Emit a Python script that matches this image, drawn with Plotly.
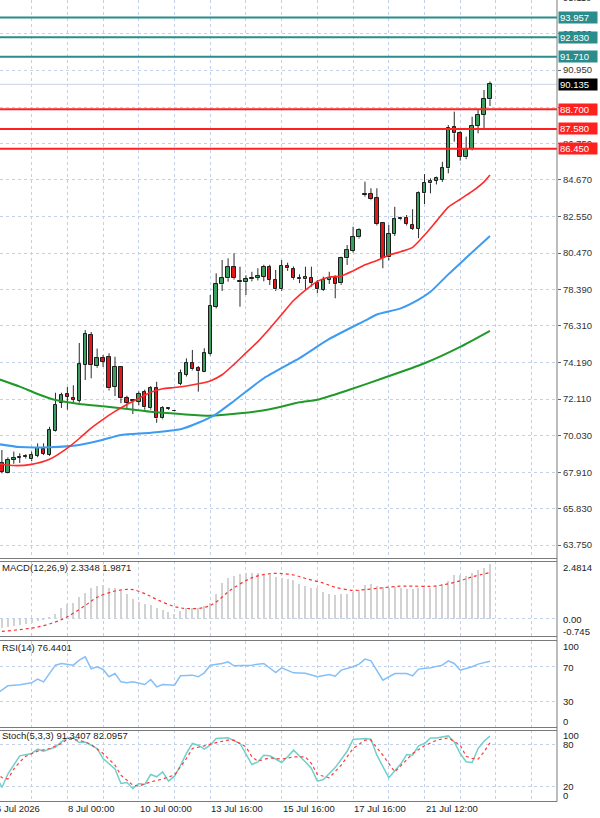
import plotly.graph_objects as go

# ---------------- data ----------------
bar_idx = list(range(83))
opens = [68.45, 67.89, 68.62, 68.75, 68.80, 68.66, 68.85, 69.23, 68.90, 70.30,
         71.90, 72.38, 72.17, 72.00, 74.06, 75.78, 73.99, 74.44, 74.53, 72.82,
         73.96, 72.15, 72.00, 71.96, 72.53, 71.58, 72.72, 71.00, 71.60, 71.40,
         73.00, 73.49, 74.16, 73.87, 73.68, 74.67, 77.40, 78.68, 79.03, 79.65,
         78.89, 78.80, 78.97, 79.06, 79.12, 79.69, 78.93, 78.39, 79.74, 79.54,
         79.03, 78.97, 79.06, 78.77, 78.35, 78.93, 79.03, 78.74, 80.17, 80.60,
         81.37, 83.79, 83.84, 83.60, 82.18, 80.22, 81.56, 82.40, 82.50, 82.10,
         81.85, 83.89, 84.46, 84.61, 84.65, 85.32, 87.67, 87.33, 85.95, 86.43,
         87.75, 88.38, 89.28]
highs = [69.19, 68.77, 69.10, 69.00, 68.95, 69.10, 69.57, 69.57, 70.52, 72.47,
         72.47, 72.80, 72.90, 75.32, 76.06, 75.95, 75.00, 74.63, 74.73, 74.53,
         74.00, 72.30, 72.10, 72.55, 72.65, 72.85, 73.10, 71.70, 71.65, 71.45,
         73.80, 74.44, 74.92, 74.00, 75.02, 78.07, 79.31, 80.07, 80.17, 80.46,
         79.69, 79.20, 79.40, 79.60, 79.80, 79.80, 79.50, 80.07, 79.92, 79.70,
         79.25, 79.69, 79.69, 78.93, 79.12, 79.40, 79.20, 80.26, 80.93, 81.98,
         81.89, 84.56, 84.18, 84.18, 82.25, 82.08, 83.12, 82.55, 82.65, 82.98,
         84.00, 84.99, 84.75, 84.85, 85.70, 87.80, 88.57, 87.45, 87.14, 88.28,
         88.66, 89.81, 90.30]
lows = [67.85, 67.85, 68.40, 68.45, 68.70, 68.55, 68.78, 68.90, 68.85, 70.25,
        71.60, 71.50, 71.90, 71.90, 73.20, 73.30, 73.90, 73.95, 72.60, 72.28,
        71.87, 71.60, 71.25, 71.75, 71.50, 71.50, 70.75, 70.95, 71.48, 71.38,
        72.90, 73.40, 73.75, 72.53, 73.65, 74.60, 77.30, 78.30, 78.83, 78.95,
        77.40, 78.07, 78.85, 78.90, 78.85, 78.64, 78.30, 78.30, 79.45, 78.95,
        78.75, 78.35, 78.55, 78.17, 78.30, 78.70, 77.88, 78.65, 79.79, 80.50,
        81.30, 83.70, 83.50, 82.05, 79.60, 80.05, 81.45, 82.35, 82.05, 81.80,
        81.32, 83.28, 83.89, 84.40, 84.55, 85.04, 86.85, 85.76, 85.85, 86.35,
        87.33, 87.52, 88.89]
closes = [67.93, 68.62, 68.75, 68.80, 68.78, 68.90, 69.32, 68.96, 70.34, 71.77,
          72.34, 72.25, 72.05, 74.10, 75.83, 74.06, 74.44, 74.25, 72.72, 73.96,
          72.15, 71.87, 72.05, 72.40, 71.64, 72.72, 71.00, 71.58, 71.53, 71.43,
          73.60, 74.16, 73.81, 73.70, 74.73, 77.44, 78.68, 79.03, 79.65, 79.03,
          78.80, 78.97, 79.06, 79.14, 79.69, 78.93, 78.39, 79.74, 79.60, 79.03,
          78.97, 79.12, 78.74, 78.39, 78.93, 79.06, 78.70, 80.17, 80.65, 81.41,
          81.79, 83.82, 83.55, 82.13, 80.17, 81.56, 82.40, 82.47, 82.13, 81.85,
          83.89, 84.50, 84.60, 84.75, 85.32, 87.61, 87.33, 85.96, 86.43, 87.75,
          88.38, 89.28, 90.135]

ma_fast_bars = [-1, 2, 5, 8, 11, 13, 15, 17, 19, 21, 23, 25, 27, 29, 31, 33, 35, 37, 39, 41,
                43, 45, 47, 49, 51, 53, 55, 57, 59, 61, 63, 65, 67, 69, 71, 73, 75, 77, 79, 81, 82]
ma_fast_vals = [68.42, 68.30, 68.37, 68.66, 69.30, 69.85, 70.45, 70.95, 71.40, 71.80,
                72.15, 72.50, 72.70, 72.77, 72.86, 72.98, 73.15, 73.50, 74.10, 74.75,
                75.40, 76.15, 76.95, 77.75, 78.35, 78.85, 79.10, 79.15, 79.45, 79.80,
                80.05, 80.35, 80.55, 80.80, 81.50, 82.30, 83.10, 83.55, 84.00, 84.55, 84.94]

ma_mid_bars = [-1, 3, 8, 13, 17, 20, 25, 30, 33, 36, 39, 44, 50, 55, 61, 63, 67, 70, 72, 75, 78, 82]
ma_mid_vals = [69.55, 69.36, 69.35, 69.48, 69.78, 70.05, 70.18, 70.38, 70.75, 71.25, 72.00,
               73.30, 74.45, 75.55, 76.60, 76.95, 77.30, 77.80, 78.25, 79.25, 80.20, 81.45]

ma_slow_bars = [-1, 3, 6, 9, 13, 17, 20, 25, 30, 35, 40, 45, 50, 53, 58, 64, 71, 77, 82]
ma_slow_vals = [73.30, 72.82, 72.40, 72.05, 71.83, 71.70, 71.58, 71.38, 71.25, 71.15, 71.29,
                71.52, 71.92, 72.07, 72.60, 73.30, 74.16, 75.10, 76.02]

macd_hist = [-0.39, -0.36, -0.32, -0.27, -0.24, -0.17, -0.10, -0.03, 0.06, 0.20,
             0.47, 0.62, 0.69, 0.95, 1.12, 1.30, 1.40, 1.45, 1.33, 1.30,
             1.19, 1.05, 0.83, 0.73, 0.62, 0.59, 0.47, 0.36, 0.30, 0.20,
             0.33, 0.44, 0.47, 0.47, 0.54, 0.69, 1.05, 1.55, 1.76, 1.83,
             1.94, 1.98, 1.98, 1.98, 1.90, 1.88, 1.79, 1.76, 1.69, 1.65,
             1.50, 1.40, 1.33, 1.33, 1.16, 1.08, 1.02, 1.05, 1.08, 1.16,
             1.22, 1.45, 1.48, 1.40, 1.36, 1.33, 1.36, 1.33, 1.26, 1.26,
             1.30, 1.33, 1.33, 1.40, 1.48, 1.62, 1.90, 1.87, 1.83, 1.98,
             2.08, 2.16, 2.3348]
macd_sig_bars = [-1, 0, 3, 6, 9, 11, 14, 16, 19, 21, 22, 24, 26, 29, 31, 34, 36, 38, 41, 43,
                 46, 49, 51, 54, 56, 59, 61, 64, 67, 69, 72, 74, 77, 79, 82]
macd_sig_vals = [-0.58, -0.55, -0.47, -0.36, -0.14, 0.08, 0.57, 0.92, 1.19, 1.26, 1.25, 1.08,
                 0.83, 0.52, 0.44, 0.48, 0.72, 1.15, 1.64, 1.84, 1.95, 1.88, 1.73, 1.53, 1.35,
                 1.22, 1.25, 1.33, 1.40, 1.40, 1.39, 1.45, 1.63, 1.80, 1.9871]

rsi_bars = [-1, 0, 1, 2, 3, 5, 6, 7, 8, 9, 10, 12, 13, 14, 15, 16, 17, 18, 19, 20, 21, 22, 24,
            25, 26, 27, 29, 30, 32, 33, 34, 35, 37, 38, 39, 41, 42, 44, 46, 47, 49, 51, 53,
            55, 56, 57, 59, 60, 61, 62, 64, 66, 68, 69, 70, 72, 73, 74, 75, 76, 77, 79, 80, 82]
rsi_vals = [38.0, 43.5, 47.9, 48.6, 49.0, 51.4, 55.6, 52.5, 62.2, 71.9, 73.9, 71.9, 77.8, 81.6,
            67.7, 70.0, 66.9, 58.4, 62.2, 52.5, 51.4, 52.5, 49.4, 55.2, 46.7, 49.4, 48.6, 59.5,
            60.3, 58.4, 63.0, 71.9, 73.9, 75.8, 71.2, 71.2, 71.9, 73.9, 63.4, 68.8, 63.0, 62.6,
            58.4, 61.1, 59.1, 66.1, 70.0, 73.1, 78.9, 77.0, 54.5, 62.2, 62.2, 59.5, 67.3, 68.8,
            70.0, 71.9, 77.0, 73.9, 66.1, 70.0, 73.1, 76.4401]

stoch_k_bars = [-1, 0, 1, 2, 3, 5, 6, 7, 9, 10, 11, 12, 13, 14, 16, 17, 19, 20, 21, 22, 23, 24,
                25, 26, 27, 28, 29, 30, 31, 32, 33, 34, 35, 36, 37, 38, 40, 41, 42, 43, 44, 45,
                47, 48, 49, 51, 52, 53, 54, 56, 58, 59, 61, 62, 63, 65, 67, 68, 69, 70, 71, 72,
                73, 75, 76, 77, 78, 79, 80, 81, 82]
stoch_k_vals = [36, 19, 38, 50, 63.6, 67, 73, 70, 76, 83.3, 88.9, 88.9, 82.3, 83, 73.9, 59.8, 45,
                24.7, 26.1, 17.7, 24.7, 23.3, 37.3, 34.1, 41.1, 28, 35, 50, 67, 81, 78.6, 73,
                78.6, 88, 89, 89, 81, 66.9, 51.4, 55.2, 64.5, 63.6, 54.2, 62.2, 71.6, 55, 45.8,
                28, 30.3, 47, 70, 86.6, 88, 87, 64.5, 32.7, 52, 65.5, 64.5, 77.7, 80.9, 88.9,
                88.9, 91.7, 83.3, 66.9, 55.2, 54.2, 73.9, 84.2, 91.3407]
stoch_d_bars = [-1, 0, 1, 2, 3, 4, 6, 8, 10, 11, 12, 14, 15, 17, 19, 20, 22, 23, 25, 27, 28, 29,
                31, 32, 34, 36, 38, 39, 41, 42, 43, 45, 47, 49, 51, 52, 53, 55, 57, 59, 61, 62,
                64, 66, 67, 69, 71, 73, 75, 77, 78, 79, 80, 81, 82]
stoch_d_vals = [40, 33, 31, 45, 55, 63, 70.2, 73.9, 80.9, 87, 87, 83.3, 79.5, 66.9, 50.5, 36.4,
                22.3, 20.9, 27, 30.8, 34.1, 36.4, 59.8, 73.9, 77.7, 82.3, 85.6, 85.6, 76.3, 62.2,
                56.1, 60.8, 58.9, 62.2, 62.2, 52.8, 37.3, 32.7, 50.5, 73.9, 85.6, 85.6, 64.5,
                41.1, 49.5, 66.9, 77.7, 85.6, 88.9, 78.6, 63, 60, 58.9, 69.2, 82.0957]

price_ticks = [63.750, 65.830, 67.910, 70.030, 72.110, 74.190, 76.310, 78.390, 80.470,
               82.550, 84.670, 86.750, 88.830, 90.950, 93.030]
resist_levels = [93.957, 92.830, 91.710]
support_levels = [88.700, 87.580, 86.450]
last_price = 90.135
grid_bars = [5, 11, 17, 23, 29, 35, 41, 47, 53, 59, 65, 71, 77, 83, 89]
date_bars = [11, 23, 35, 47, 59, 71]
date_texts = ["8 Jul 00:00", "10 Jul 00:00", "13 Jul 16:00", "15 Jul 16:00",
              "17 Jul 16:00", "21 Jul 12:00"]
first_date_text = "6 Jul 2026"

# ---------------- styling ----------------
W, H = 600, 818
FONT = "Liberation Sans, Arial, sans-serif"
GRID = "#c3d0e8"
FRAME = "#7a7a7a"
UP, DOWN, EDGE = "#3a9e5e", "#e8161b", "#1c1c1c"
TEAL, RED = "#2a8c8c", "#ff2020"
X_RANGE = [-0.32, 93.26]


def py(pix):
    return 1 - pix / H


fig = go.Figure()

# candle wicks (split so that bodies cover nothing)
wx, wy = [], []
for i, o, h, l, c in zip(bar_idx, opens, highs, lows, closes):
    top, bot = max(o, c), min(o, c)
    wx += [i, i, None, i, i, None]
    wy += [top, h, None, l, bot, None]
fig.add_trace(go.Scatter(x=wx, y=wy, mode="lines", line=dict(color="#2a2a2a", width=1),
                         hoverinfo="skip", showlegend=False, xaxis="x", yaxis="y"))
fig.add_trace(go.Bar(
    x=bar_idx,
    y=[max(abs(c - o), 0.045) for o, c in zip(opens, closes)],
    base=[min(o, c) for o, c in zip(opens, closes)],
    width=0.58,
    marker=dict(color=[UP if c >= o else DOWN for o, c in zip(opens, closes)],
                line=dict(color=EDGE, width=1)),
    showlegend=False, xaxis="x", yaxis="y"))

for bx, vals, col, w in [(ma_slow_bars, ma_slow_vals, "#1f9a2a", 2),
                          (ma_mid_bars, ma_mid_vals, "#3d9bf2", 2),
                          (ma_fast_bars, ma_fast_vals, "#ff2a2a", 1.6)]:
    fig.add_trace(go.Scatter(x=bx, y=vals, mode="lines",
                             line=dict(color=col, width=w, shape="spline", smoothing=0.6),
                             showlegend=False, xaxis="x", yaxis="y"))

# MACD
fig.add_trace(go.Bar(x=bar_idx, y=macd_hist, width=0.2, marker=dict(color="#d2d2d2", line=dict(width=0)),
                     showlegend=False, xaxis="x2", yaxis="y2"))
fig.add_trace(go.Scatter(x=macd_sig_bars, y=macd_sig_vals, mode="lines",
                         line=dict(color="#ff3030", width=1.2, dash="dot", shape="spline"),
                         showlegend=False, xaxis="x2", yaxis="y2"))
# RSI
fig.add_trace(go.Scatter(x=rsi_bars, y=rsi_vals, mode="lines",
                         line=dict(color="#84c0f7", width=1.5),
                         showlegend=False, xaxis="x3", yaxis="y3"))
# Stochastic
fig.add_trace(go.Scatter(x=stoch_k_bars, y=stoch_k_vals, mode="lines",
                         line=dict(color="#6fd0ca", width=1.5),
                         showlegend=False, xaxis="x4", yaxis="y4"))
fig.add_trace(go.Scatter(x=stoch_d_bars, y=stoch_d_vals, mode="lines",
                         line=dict(color="#ff3a3a", width=1.2, dash="dot"),
                         showlegend=False, xaxis="x4", yaxis="y4"))

xcommon = dict(range=X_RANGE, tickmode="array", tickvals=grid_bars, showticklabels=False,
               showgrid=True, gridcolor=GRID, griddash="dot", gridwidth=1,
               zeroline=False, ticks="", showline=False, fixedrange=True)
ycommon = dict(showgrid=True, gridcolor=GRID, griddash="dot", zeroline=False,
               showticklabels=False, ticks="", showline=False, side="right")

layout = dict(
    width=W, height=H, margin=dict(l=0, r=43, t=0, b=0),
    paper_bgcolor="white", plot_bgcolor="white", showlegend=False,
    font=dict(family=FONT, size=9.5, color="#333333"),
    xaxis=dict(xcommon, domain=[0, 1], anchor="y"),
    xaxis2=dict(xcommon, domain=[0, 1], anchor="y2", matches="x"),
    xaxis3=dict(xcommon, domain=[0, 1], anchor="y3", matches="x"),
    xaxis4=dict(xcommon, domain=[0, 1], anchor="y4", matches="x"),
    yaxis=dict(ycommon, domain=[py(558), 1], range=[63.0055, 94.9641], anchor="x",
               tickmode="array", tickvals=price_ticks,
               ticktext=[f"{v:.3f}" for v in price_ticks], showticklabels=True,
               ticks="outside", ticklen=3, tickcolor="#666666",
               tickfont=dict(family=FONT, size=9.5, color="#333333")),
    yaxis2=dict(ycommon, domain=[py(636), py(561)], range=[-0.745, 2.4814], anchor="x2",
                tickmode="array", tickvals=[0]),
    yaxis3=dict(ycommon, domain=[py(727), py(641)], range=[0, 100], anchor="x3",
                tickmode="array", tickvals=[30, 70]),
    yaxis4=dict(ycommon, domain=[py(801), py(730)], range=[0, 100], anchor="x4",
                tickmode="array", tickvals=[20, 80]),
    bargap=0,
)
fig.update_layout(layout)

shapes = []
# level lines
shapes.append(dict(type="line", xref="x", yref="y", x0=-5, x1=100, y0=last_price, y1=last_price,
                   line=dict(color="#c9d3e6", width=1), layer="below"))
for lv in resist_levels:
    shapes.append(dict(type="line", xref="x", yref="y", x0=-5, x1=100, y0=lv, y1=lv,
                       line=dict(color=TEAL, width=2), layer="above"))
for lv in support_levels:
    shapes.append(dict(type="line", xref="x", yref="y", x0=-5, x1=100, y0=lv, y1=lv,
                       line=dict(color=RED, width=2), layer="above"))
# frames
shapes.append(dict(type="line", xref="paper", yref="paper", x0=1, x1=1, y0=py(801.5), y1=1,
                   line=dict(color=FRAME, width=1)))
for pix in [558.5, 561.5, 636.5, 640.5, 727.5, 730.5, 801.5]:
    shapes.append(dict(type="line", xref="paper", yref="paper", x0=0, x1=1, y0=py(pix), y1=py(pix),
                       line=dict(color=FRAME, width=1)))
fig.update_layout(shapes=shapes)

ann = []
lbl_font = dict(family=FONT, size=9.5, color="white")
for lv in resist_levels:
    ann.append(dict(xref="paper", yref="y", x=1, xshift=1, y=lv, xanchor="left", yanchor="middle",
                    text=f"{lv:.3f}", showarrow=False, font=lbl_font, bgcolor=TEAL,
                    borderpad=1, width=36, height=9, align="left"))
for lv in support_levels:
    ann.append(dict(xref="paper", yref="y", x=1, xshift=1, y=lv, xanchor="left", yanchor="middle",
                    text=f"{lv:.3f}", showarrow=False, font=lbl_font, bgcolor=RED,
                    borderpad=1, width=36, height=9, align="left"))
ann.append(dict(xref="paper", yref="y", x=1, xshift=1, y=last_price, xanchor="left", yanchor="middle",
                text=f"{last_price:.3f}", showarrow=False, font=lbl_font, bgcolor="#000000",
                borderpad=1, width=36, height=9, align="left"))
# top cut tick label
ann.append(dict(xref="paper", yref="paper", x=1, xshift=4, y=py(-2.6), xanchor="left",
                yanchor="middle", text="95.110", showarrow=False,
                font=dict(family=FONT, size=9.5, color="#333333")))

# indicator titles
dark = dict(family=FONT, size=9.5, color="#222222")
for txt, pix in [("MACD(12,26,9) 2.3348 1.9871", 567.5), ("RSI(14) 76.4401", 647),
                 ("Stoch(5,3,3) 91.3407 82.0957", 735.5)]:
    ann.append(dict(xref="paper", yref="paper", x=0, y=py(pix), xanchor="left", yanchor="middle",
                    text=txt, showarrow=False, font=dark))

# sub-panel scale labels
for txt, pix in [("2.4814", 567.5), ("0.00", 619.5), ("-0.745", 631),
                 ("100", 646.5), ("70", 667), ("30", 701.5), ("0", 721),
                 ("100", 735.5), ("80", 744), ("20", 786.5), ("0", 795)]:
    ann.append(dict(xref="paper", yref="paper", x=1, xshift=4, y=py(pix), xanchor="left",
                    yanchor="middle", text=txt, showarrow=False, font=dark))

# date labels
ann.append(dict(xref="x", yref="paper", x=X_RANGE[0], xshift=-6, y=py(808.5), xanchor="left",
                yanchor="middle", text=first_date_text, showarrow=False, font=dark))
for b, t in zip(date_bars, date_texts):
    ann.append(dict(xref="x", yref="paper", x=b, xshift=-1, y=py(808.5), xanchor="left",
                    yanchor="middle", text=t, showarrow=False, font=dark))
fig.update_layout(annotations=ann)

fig.write_html("out.html")
